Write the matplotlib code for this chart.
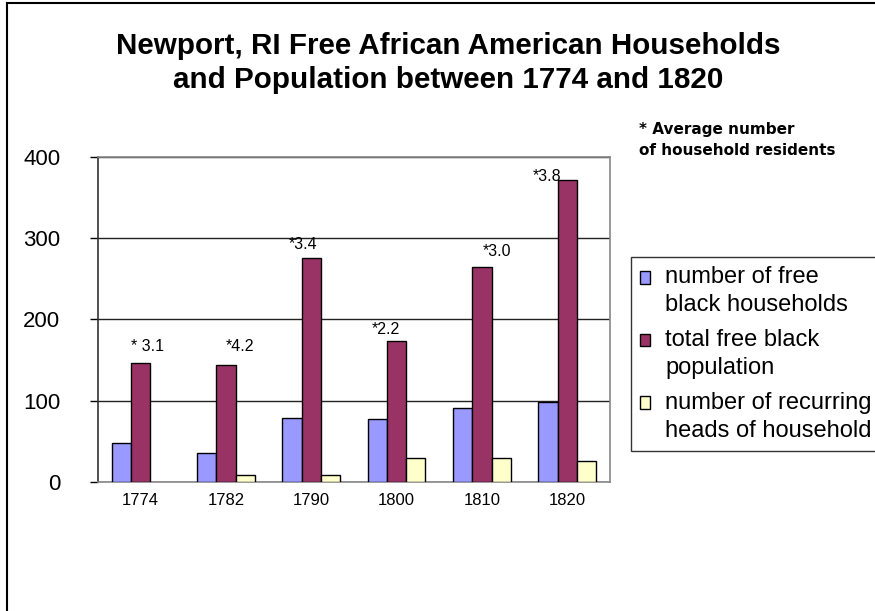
import numpy as np
import matplotlib
matplotlib.use("Agg")
import matplotlib.pyplot as plt
from matplotlib.lines import Line2D
from matplotlib.patches import Rectangle
from matplotlib.legend_handler import HandlerPatch

plt.rcParams['font.family'] = ['Liberation Sans', 'DejaVu Sans']

# data (no recurring heads bar shown for 1774)
years = ['1774', '1782', '1790', '1800', '1810', '1820']
households = [48, 35, 79, 77, 91, 98]
population = [146, 144, 276, 173, 265, 372]
recurring = [np.nan, 8, 8, 29, 29, 25]

# average household size labels (hand placed in the original)
avg_labels = ['* 3.1', '*4.2', '*3.4', '*2.2', '*3.0', '*3.8']
avg_dx = [0.08, 0.17, -0.10, -0.12, 0.18, -0.24]
avg_y = [167, 167, 292, 188, 283, 376]

series_names = ['number of free\nblack households',
                'total free black\npopulation',
                'number of recurring\nheads of household']
colors = ['#9999FF', '#993366', '#FFFFCC']


def top_square(legend, orig_handle, xdescent, ydescent, width, height, fontsize):
    # put the legend square next to the first line of a two-line label
    return Rectangle((-xdescent, -ydescent + 10), width, height)


fig = plt.figure(figsize=(8.75, 6.11), dpi=100)
ax = fig.add_axes([0.112, 0.2116, 0.585, 0.5314])

x = np.arange(len(years))
w = 0.225
for i, vals in enumerate([households, population, recurring]):
    ax.bar(x + (i - 1) * w, vals, w, color=colors[i], edgecolor='black',
           linewidth=1, zorder=3)

for i in range(len(years)):
    ax.text(x[i] + avg_dx[i], avg_y[i], avg_labels[i], ha='center', va='center',
            fontsize=11.5, zorder=4)

ax.set_xlim(-0.5, len(years) - 0.5)
ax.set_ylim(0, 400)
ax.set_yticks([0, 100, 200, 300, 400])
ax.set_xticks(x)
ax.set_xticklabels(years, fontsize=12)
ax.tick_params(axis='y', labelsize=16, length=6, width=1, direction='out', pad=21)
ax.tick_params(axis='x', length=0, pad=8)
ax.yaxis.grid(True, color='#222222', linewidth=1, zorder=0)
ax.set_axisbelow(True)
for s in ['top', 'right', 'bottom']:
    ax.spines[s].set_color('#888888')
    ax.spines[s].set_linewidth(1.2)
ax.spines['left'].set_color('#333333')
ax.spines['left'].set_linewidth(1.2)

fig.text(0.512, 0.897, 'Newport, RI Free African American Households\n'
         'and Population between 1774 and 1820',
         ha='center', va='center', fontsize=21.3, fontweight='bold', linespacing=1.29)

fig.text(0.730, 0.771, '* Average number\nof household residents',
         ha='left', va='center', fontsize=11, fontweight='bold', linespacing=1.5,
         family='DejaVu Sans')

handles = [Rectangle((0, 0), 1, 1, facecolor=c, edgecolor='black', linewidth=1)
           for c in colors]
leg = fig.legend(handles=handles, labels=series_names, loc='upper left',
                 bbox_to_anchor=(0.721, 0.579), fontsize=17, frameon=True,
                 fancybox=False, edgecolor='black', handlelength=0.45,
                 handleheight=0.45, handletextpad=0.63, borderpad=0.38,
                 labelspacing=0.54, borderaxespad=0,
                 handler_map={Rectangle: HandlerPatch(patch_func=top_square)})
leg.get_frame().set_linewidth(1)
for t in leg.get_texts():
    t.set_linespacing(1.35)

# outer frame of the original chart area
fig.add_artist(Line2D([0.008, 0.008], [0.0, 0.995], color='black', linewidth=1.5,
                      transform=fig.transFigure))
fig.add_artist(Line2D([0.008, 1.0], [0.995, 0.995], color='black', linewidth=1.5,
                      transform=fig.transFigure))

fig.savefig('out.png', dpi=100, facecolor='white')
